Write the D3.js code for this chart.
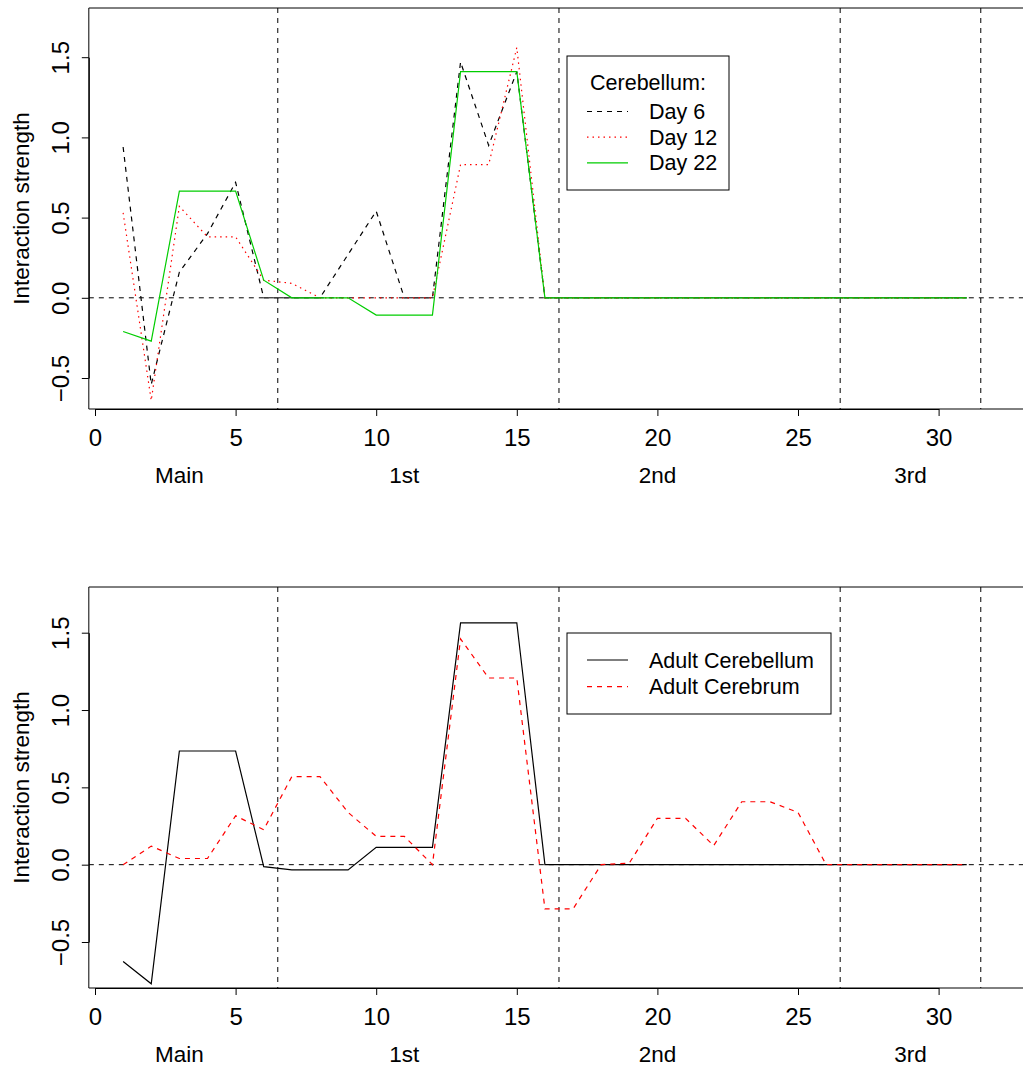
<!DOCTYPE html>
<html>
<head>
  <meta charset="utf-8">
  <title>Interaction strength</title>
  <style type="text/css">
    body { margin: 0; background: #fff; }
    svg { display: block; font-family: "Liberation Sans", Arial, Helvetica, sans-serif; }
  </style>
</head>
<body>
<div id="chart"></div>
<script src="https://d3js.org/d3.v7.min.js"></script>
<script type="text/javascript">
// positions along the x axis
var pos = [1,2,3,4,5,6,7,8,9,10,11,12,13,14,15,16,17,18,19,20,21,22,23,24,25,26,27,28,29,30,31];

// top panel: cerebellum by day
var day6  = [0.94,-0.54,0.16,0.40,0.72,0,0,0,0.27,0.54,0,0,1.47,0.95,1.41,0,0,0,0,0,0,0,0,0,0,0,0,0,0,0,0];
var day12 = [0.53,-0.64,0.57,0.38,0.38,0.11,0.09,0,0,0,0,0,0.83,0.83,1.56,0,0,0,0,0,0,0,0,0,0,0,0,0,0,0,0];
var day22 = [-0.21,-0.27,0.665,0.665,0.665,0.11,0,0,0,-0.108,-0.108,-0.108,1.41,1.41,1.41,0,0,0,0,0,0,0,0,0,0,0,0,0,0,0,0];

// bottom panel: adult
var adultCerebellum = [-0.626,-0.77,0.735,0.735,0.735,-0.013,-0.034,-0.034,-0.034,0.112,0.112,0.112,1.564,1.564,1.564,0,0,0,0,0,0,0,0,0,0,0,0,0,0,0,0];
var adultCerebrum   = [0,0.12,0.04,0.04,0.316,0.226,0.57,0.57,0.338,0.183,0.183,0,1.46,1.207,1.207,-0.286,-0.286,0,0.01,0.30,0.30,0.123,0.407,0.407,0.338,0,0,0,0,0,0];

var xTicks = [0,5,10,15,20,25,30];
var yTicks = [-0.5,0,0.5,1,1.5];
var separators = [6.5,16.5,26.5,31.5];
var groupLabels = ["Main","1st","2nd","3rd"];
var groupPos = [3,11,20,29];

var W = 1023, H = 1067;
var svg = d3.select("#chart").append("svg")
  .attr("width", W)
  .attr("height", H);

var x = d3.scaleLinear().domain([0, 30]).range([95, 938.6]);
var boxLeft = x(-0.22), boxRight = 1040;

function panel(cfg) {
  var y = d3.scaleLinear().domain([-0.5, 1.5]).range(cfg.yRange);
  var g = svg.append("g");

  var clipId = "clip" + cfg.id;
  g.append("clipPath").attr("id", clipId)
    .append("rect")
    .attr("x", boxLeft).attr("y", cfg.top)
    .attr("width", boxRight - boxLeft).attr("height", cfg.bottom - cfg.top);

  var plot = g.append("g").attr("clip-path", "url(#" + clipId + ")");

  // reference lines
  plot.selectAll("line.sep")
    .data(separators)
    .enter().append("line")
    .attr("x1", d => x(d)).attr("x2", d => x(d))
    .attr("y1", cfg.top).attr("y2", cfg.bottom)
    .attr("stroke", "#000").attr("stroke-width", 1)
    .attr("stroke-dasharray", "5 5");

  plot.append("line")
    .attr("x1", boxLeft).attr("x2", boxRight)
    .attr("y1", y(0)).attr("y2", y(0))
    .attr("stroke", "#000").attr("stroke-width", 1)
    .attr("stroke-dasharray", "5 5");

  var line = d3.line()
    .x((d, i) => x(pos[i]))
    .y(d => y(d));

  cfg.series.forEach(function(s) {
    plot.append("path")
      .datum(s.values)
      .attr("d", line)
      .attr("fill", "none")
      .attr("stroke", s.color)
      .attr("stroke-width", s.width || 1.2)
      .attr("stroke-dasharray", s.dash || null);
  });

  // box
  g.append("path")
    .attr("d", `M${boxRight},${cfg.top}H${boxLeft}V${cfg.bottom}H${boxRight}`)
    .attr("fill", "none")
    .attr("stroke", "#000")
    .attr("stroke-width", 1);

  // x axis
  var xa = g.append("g")
    .attr("transform", `translate(0,${cfg.bottom})`)
    .call(d3.axisBottom(x).tickValues(xTicks).tickSize(7).tickSizeOuter(0));
  xa.select(".domain").attr("stroke-width", 1);
  xa.selectAll("text")
    .attr("y", 37).attr("dy", 0)
    .style("font-size", "24px")
    .style("font-family", "Liberation Sans, Arial, sans-serif")
    .attr("fill", "#000");

  // y axis
  var ya = g.append("g")
    .attr("transform", `translate(${boxLeft},0)`)
    .call(d3.axisLeft(y).tickValues(yTicks).tickSize(7).tickSizeOuter(0)
      .tickFormat(d => d3.format(".1f")(d).replace("-", "\u2212")));
  ya.selectAll("text")
    .attr("transform", "rotate(-90)")
    .attr("x", 0).attr("y", -20).attr("dy", 0)
    .attr("text-anchor", "middle")
    .style("font-size", "24px")
    .style("font-family", "Liberation Sans, Arial, sans-serif")
    .attr("fill", "#000");

  // y title
  g.append("text")
    .attr("transform", `translate(29,${(cfg.top + cfg.bottom) / 2}) rotate(-90)`)
    .attr("text-anchor", "middle")
    .style("font-size", "22.5px")
    .text("Interaction strength");

  // group labels
  g.selectAll("text.grp")
    .data(groupLabels)
    .enter().append("text")
    .attr("x", (d, i) => x(groupPos[i]))
    .attr("y", cfg.bottom + 74)
    .attr("text-anchor", "middle")
    .style("font-size", "22.5px")
    .text(d => d);

  // legend
  var lg = cfg.legend;
  var leg = g.append("g");
  leg.append("rect")
    .attr("x", lg.x).attr("y", lg.y)
    .attr("width", lg.w).attr("height", lg.h)
    .attr("fill", "#fff").attr("stroke", "#000").attr("stroke-width", 1);
  if (lg.title) {
    leg.append("text")
      .attr("x", lg.x + lg.w / 2)
      .attr("y", lg.titleY).attr("dy", "0.35em")
      .attr("text-anchor", "middle")
      .style("font-size", "21.5px")
      .text(lg.title);
  }
  cfg.series.forEach(function(s, i) {
    var cy = lg.firstY + i * lg.step;
    leg.append("line")
      .attr("x1", 587).attr("x2", 628)
      .attr("y1", cy).attr("y2", cy)
      .attr("stroke", s.color)
      .attr("stroke-width", s.width || 1.2)
      .attr("stroke-dasharray", s.dash || null);
    leg.append("text")
      .attr("x", 649).attr("y", cy).attr("dy", "0.35em")
      .style("font-size", "21.5px")
      .text(s.name);
  });
}

panel({
  id: "top", top: 8, bottom: 409, yRange: [378, 57.2],
  series: [
    { name: "Day 6",  values: day6,  color: "#000", dash: "5 5" },
    { name: "Day 12", values: day12, color: "#ff0000", dash: "1.5 4" },
    { name: "Day 22", values: day22, color: "#00cd00" }
  ],
  legend: { x: 567, y: 56, w: 162, h: 134, title: "Cerebellum:", titleY: 82, firstY: 111.5, step: 25.7 }
});

panel({
  id: "bottom", top: 587, bottom: 988, yRange: [942, 632.7],
  series: [
    { name: "Adult Cerebellum", values: adultCerebellum, color: "#000" },
    { name: "Adult Cerebrum",   values: adultCerebrum,   color: "#ff0000", dash: "5 5" }
  ],
  legend: { x: 567, y: 633, w: 264, h: 81, firstY: 660, step: 26.7 }
});
</script>
</body>
</html>
